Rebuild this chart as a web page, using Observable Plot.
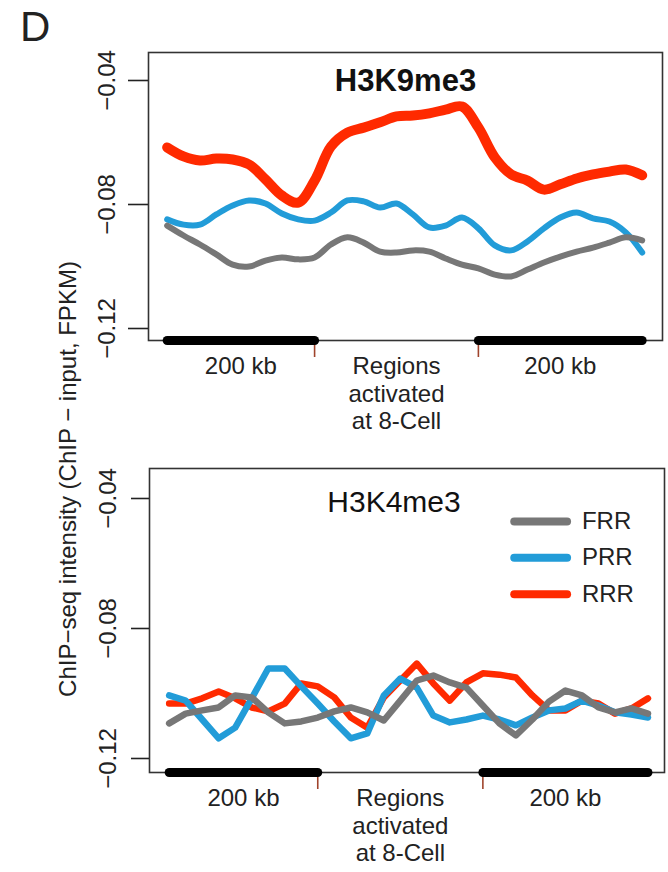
<!DOCTYPE html>
<html><head><meta charset="utf-8">
<script src="https://cdn.jsdelivr.net/npm/d3@7"></script>
<script src="https://cdn.jsdelivr.net/npm/@observablehq/plot@0.6"></script>
<style>
body{margin:0;background:#fff;}
#root{position:relative;width:668px;height:872px;overflow:hidden;font-family:"Liberation Sans",Arial,sans-serif;color:#222;}
#root svg{position:absolute;left:0;}
.letter{position:absolute;left:20px;top:6px;font-size:42px;line-height:1;}
.ylab{position:absolute;left:68px;top:479px;transform:translate(-50%,-50%) rotate(-90deg);white-space:nowrap;font-size:24px;line-height:1;}
</style></head><body><div id="root">
<div class="letter">D</div>
<div class="ylab">ChIP−seq intensity (ChIP − input, FPKM)</div>
</div>
<script>
// ---- data ----
const bins = [0,1,2,3,4,5,6,7,8,9,10,11,12,13,14,15,16,17,18,19,20,21,22,23,24,25,26,27,28,29];
const seriesNames = ["FRR","PRR","RRR"];
const seriesColors = ["#777777","#229cd8","#ff2a00"];

const k9FRR = [-0.0868,-0.0900,-0.0929,-0.0961,-0.0994,-0.1000,-0.0981,-0.0971,-0.0977,-0.0971,-0.0929,-0.0906,-0.0923,-0.0952,-0.0955,-0.0948,-0.0952,-0.0974,-0.0994,-0.1006,-0.1026,-0.1032,-0.1010,-0.0987,-0.0968,-0.0952,-0.0939,-0.0923,-0.0906,-0.0916];
const k9PRR = [-0.0848,-0.0865,-0.0865,-0.0832,-0.0803,-0.0787,-0.0797,-0.0829,-0.0848,-0.0852,-0.0826,-0.0787,-0.0790,-0.0810,-0.0797,-0.0832,-0.0874,-0.0868,-0.0842,-0.0877,-0.0932,-0.0948,-0.0919,-0.0877,-0.0842,-0.0826,-0.0845,-0.0855,-0.0890,-0.0955];
const k9RRR = [-0.0616,-0.0645,-0.0658,-0.0652,-0.0655,-0.0671,-0.0719,-0.0771,-0.0794,-0.0723,-0.0613,-0.0568,-0.0552,-0.0535,-0.0516,-0.0513,-0.0506,-0.0494,-0.0484,-0.0552,-0.0648,-0.0703,-0.0723,-0.0752,-0.0735,-0.0716,-0.0703,-0.0694,-0.0687,-0.0706];

const k4FRR = [-0.1092,-0.1062,-0.1052,-0.1043,-0.1006,-0.1012,-0.1058,-0.1092,-0.1086,-0.1074,-0.1055,-0.1043,-0.1058,-0.1083,-0.1022,-0.0960,-0.0945,-0.0966,-0.0982,-0.1037,-0.1092,-0.1129,-0.1080,-0.1025,-0.0991,-0.1006,-0.1043,-0.1058,-0.1046,-0.1062];
const k4PRR = [-0.1006,-0.1022,-0.1080,-0.1138,-0.1105,-0.1015,-0.0923,-0.0923,-0.0978,-0.1031,-0.1086,-0.1138,-0.1123,-0.1006,-0.0954,-0.0982,-0.1068,-0.1089,-0.1080,-0.1068,-0.1080,-0.1098,-0.1074,-0.1052,-0.1046,-0.1022,-0.1037,-0.1058,-0.1065,-0.1074];
const k4RRR = [-0.1031,-0.1031,-0.1015,-0.0994,-0.1015,-0.1043,-0.1055,-0.1031,-0.0969,-0.0978,-0.1012,-0.1074,-0.1105,-0.1012,-0.0960,-0.0908,-0.0969,-0.1022,-0.0966,-0.0938,-0.0942,-0.0951,-0.1006,-0.1052,-0.1052,-0.1022,-0.1031,-0.1062,-0.1046,-0.1015];

const yTicks = [-0.04,-0.08,-0.12];
const yTickLabels = ["−0.04","−0.08","−0.12"];
const flanks = [{start:0,end:9,label:"200 kb"},{start:19,end:29,label:"200 kb"}];
const boundaryTicks = [9,19];
const regionLabel = "Regions\nactivated\nat 8-Cell";

// legend placement (data units of the lower panel)
const legendX = [20.9, 24.1];
const legendTextX = 25.0;
const legendY = [-0.0471, -0.0582, -0.0695];

function panel(o) {
  const rows = s => bins.map((b,i)=>({x:b, y:s[i]}));
  const lineOpts = (c,w) => ({x:"x", y:"y", stroke:c, strokeWidth:w, curve:o.curve, strokeLinejoin:"round", strokeLinecap:"round"});
  const marks = [
    Plot.frame({stroke:"#333", strokeWidth:1.6}),
    Plot.axisY(yTicks, {anchor:"left", tickSize:o.tickSize, tickFormat:()=>"", label:null, stroke:"#222", strokeWidth:1.6}),
    Plot.text(yTicks, {y:d=>d, text:(d,i)=>yTickLabels[i], frameAnchor:"left", dx:-41, rotate:-90, textAnchor:"middle", lineAnchor:"middle", fontSize:24, fill:"#222"}),
    Plot.axisX(boundaryTicks, {anchor:"bottom", tickSize:17, tickFormat:()=>"", label:null, stroke:"#a0442c", strokeWidth:1.6}),
    Plot.link(flanks, {x1:"start", x2:"end", y1:()=>o.yDomain[0], y2:()=>o.yDomain[0], stroke:"#000", strokeWidth:9, strokeLinecap:"round"}),
    Plot.line(rows(o.rrr), lineOpts(seriesColors[2], o.redWidth)),
    Plot.line(rows(o.prr), lineOpts(seriesColors[1], o.otherWidth)),
    Plot.line(rows(o.frr), lineOpts(seriesColors[0], o.otherWidth)),
    Plot.text(flanks, {x:d=>(d.start+d.end)/2, text:"label", frameAnchor:"bottom", dy:16, lineAnchor:"top", fontSize:24, fill:"#222"}),
    Plot.text([regionLabel], {x:()=>(boundaryTicks[0]+boundaryTicks[1])/2, text:d=>d, frameAnchor:"bottom", dy:14, lineAnchor:"top", lineHeight:1.15, fontSize:24, fill:"#222"}),
    Plot.text([o.title], {text:d=>d, frameAnchor:"top", dx:o.titleDx, dy:o.titleDy, lineAnchor:"top", fontSize:o.titleSize, fontWeight:o.titleWeight, fill:"#111"})
  ];
  if (o.legend) {
    marks.push(
      Plot.link(seriesNames, {x1:()=>legendX[0], x2:()=>legendX[1], y1:(d,i)=>legendY[i], y2:(d,i)=>legendY[i], stroke:(d,i)=>seriesColors[i], strokeWidth:8, strokeLinecap:"round"}),
      Plot.text(seriesNames, {x:()=>legendTextX, y:(d,i)=>legendY[i], text:d=>d, textAnchor:"start", lineAnchor:"middle", fontSize:24, fill:"#222"})
    );
  }
  const svg = Plot.plot({
    width:668, height:o.height,
    marginTop:o.marginTop, marginBottom:o.height - o.plotBottom, marginLeft:o.marginLeft, marginRight:o.marginRight,
    x:{domain:o.xDomain}, y:{domain:o.yDomain},
    color:{type:"identity"},
    style:{fontFamily:"'Liberation Sans', Arial, sans-serif", fontSize:"24px", background:"transparent", overflow:"visible"},
    marks
  });
  svg.style.top = o.top + "px";
  return svg;
}

const root = document.getElementById("root");
root.appendChild(panel({
  top:0, height:440, marginTop:52, plotBottom:340, marginLeft:148, marginRight:6,
  xDomain:[-1.14, 30.24], yDomain:[-0.12387, -0.03097],
  frr:k9FRR, prr:k9PRR, rrr:k9RRR, curve:"catmull-rom", redWidth:10, otherWidth:6,
  tickSize:20, title:"H3K9me3", titleSize:31, titleWeight:"bold", titleDx:0, titleDy:16, legend:false
}));
root.appendChild(panel({
  top:440, height:432, marginTop:28, plotBottom:332, marginLeft:149, marginRight:4,
  xDomain:[-1.19, 30.0], yDomain:[-0.12431, -0.03077],
  frr:k4FRR, prr:k4PRR, rrr:k4RRR, curve:"linear", redWidth:6.5, otherWidth:6.5,
  tickSize:18, title:"H3K4me3", titleSize:30, titleWeight:"normal", titleDx:-13, titleDy:22, legend:true
}));
</script>
</body></html>
